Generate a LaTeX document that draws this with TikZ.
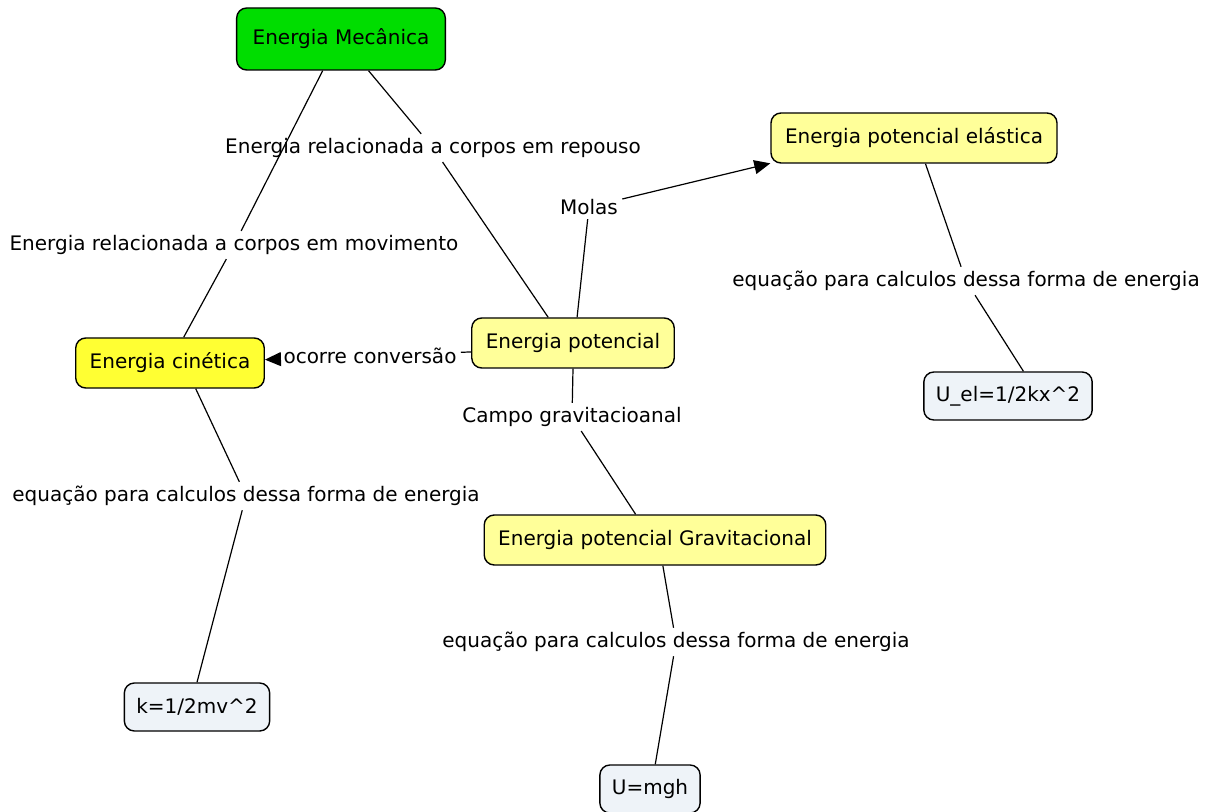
\documentclass[tikz,border=0pt]{standalone}
\usepackage{fontspec}
\setmainfont{DejaVu Sans}
\usetikzlibrary{arrows.meta, positioning}
\definecolor{mechgreen}{RGB}{0,221,0}
\definecolor{kinyellow}{RGB}{255,255,51}
\definecolor{potyellow}{RGB}{255,255,153}
\definecolor{formgray}{RGB}{238,243,248}
\tikzstyle{concept} = [rectangle, rounded corners=5pt, text centered, draw=black, line width=0.7pt, fill=potyellow, inner xsep=7pt, minimum height=25pt]
\tikzstyle{mechanical} = [concept, fill=mechgreen, minimum height=31pt, inner xsep=8pt]
\tikzstyle{kinetic} = [concept, fill=kinyellow]
\tikzstyle{formula} = [concept, fill=formgray, inner xsep=6pt, minimum height=24pt]
\tikzstyle{phrase} = [inner sep=2pt]
\tikzstyle{link} = [line width=0.6pt, black]
\tikzstyle{link_arrow} = [link, -{Triangle[length=8pt, width=7pt]}]

\begin{document}
\begin{tikzpicture}[x=0.5pt, y=-0.5pt, font=\fontsize{10}{12}\selectfont]

    \useasboundingbox (0,0) rectangle (1209,812);

    % concepts
    \node (mec) [mechanical] at (341,39) {Energia Mecânica};
    \node (cin) [kinetic] at (170,363) {Energia cinética};
    \node (pot) [concept] at (573,343) {Energia potencial};
    \node (ela) [concept] at (914,138) {Energia potencial elástica};
    \node (grav) [concept] at (655,540) {Energia potencial Gravitacional};
    \node (kform) [formula] at (197,707) {k=1/2mv\^{}2};
    \node (uel) [formula] at (1008,396) {U\_el=1/2kx\^{}2};
    \node (mgh) [formula] at (650,789) {U=mgh};

    % linking phrases
    \node (repouso) [phrase] at (433,148) {Energia relacionada a corpos em repouso};
    \node (movimento) [phrase] at (234,245) {Energia relacionada a corpos em movimento};
    \node (molas) [phrase] at (589,207) {Molas};
    \node (conv) [phrase] at (370,356) {ocorre conversão};
    \node (campo) [phrase] at (572,417) {Campo gravitacioanal};
    \node (eqela) [phrase] at (966,281) {equação para calculos dessa forma de energia};
    \node (eqcin) [phrase] at (246,496) {equação para calculos dessa forma de energia};
    \node (eqgrav) [phrase] at (676,642) {equação para calculos dessa forma de energia};

    \draw [link] (mec.240) -- (movimento);
    \draw [link] (movimento) -- (cin.62);
    \draw [link] (mec.311) -- (repouso);
    \draw [link] (repouso) -- (pot.134);

    \draw [link] (pot.81) -- (molas);
    \draw [link_arrow] (molas) -- (ela.190);
    \draw [link] (pot.185) -- (conv);
    \draw [link_arrow] (conv) -- (cin);
    \draw [link] (pot.south) -- (campo);
    \draw [link] (campo) -- (grav.127);

    \draw [link] (ela.294) -- (eqela);
    \draw [link] (eqela) -- (uel.58);
    \draw [link] (cin.315) -- (eqcin);
    \draw [link] (eqcin) -- (kform.north);
    \draw [link] (grav.287) -- (eqgrav);
    \draw [link] (eqgrav) -- (mgh.78);

\end{tikzpicture}
\end{document}
